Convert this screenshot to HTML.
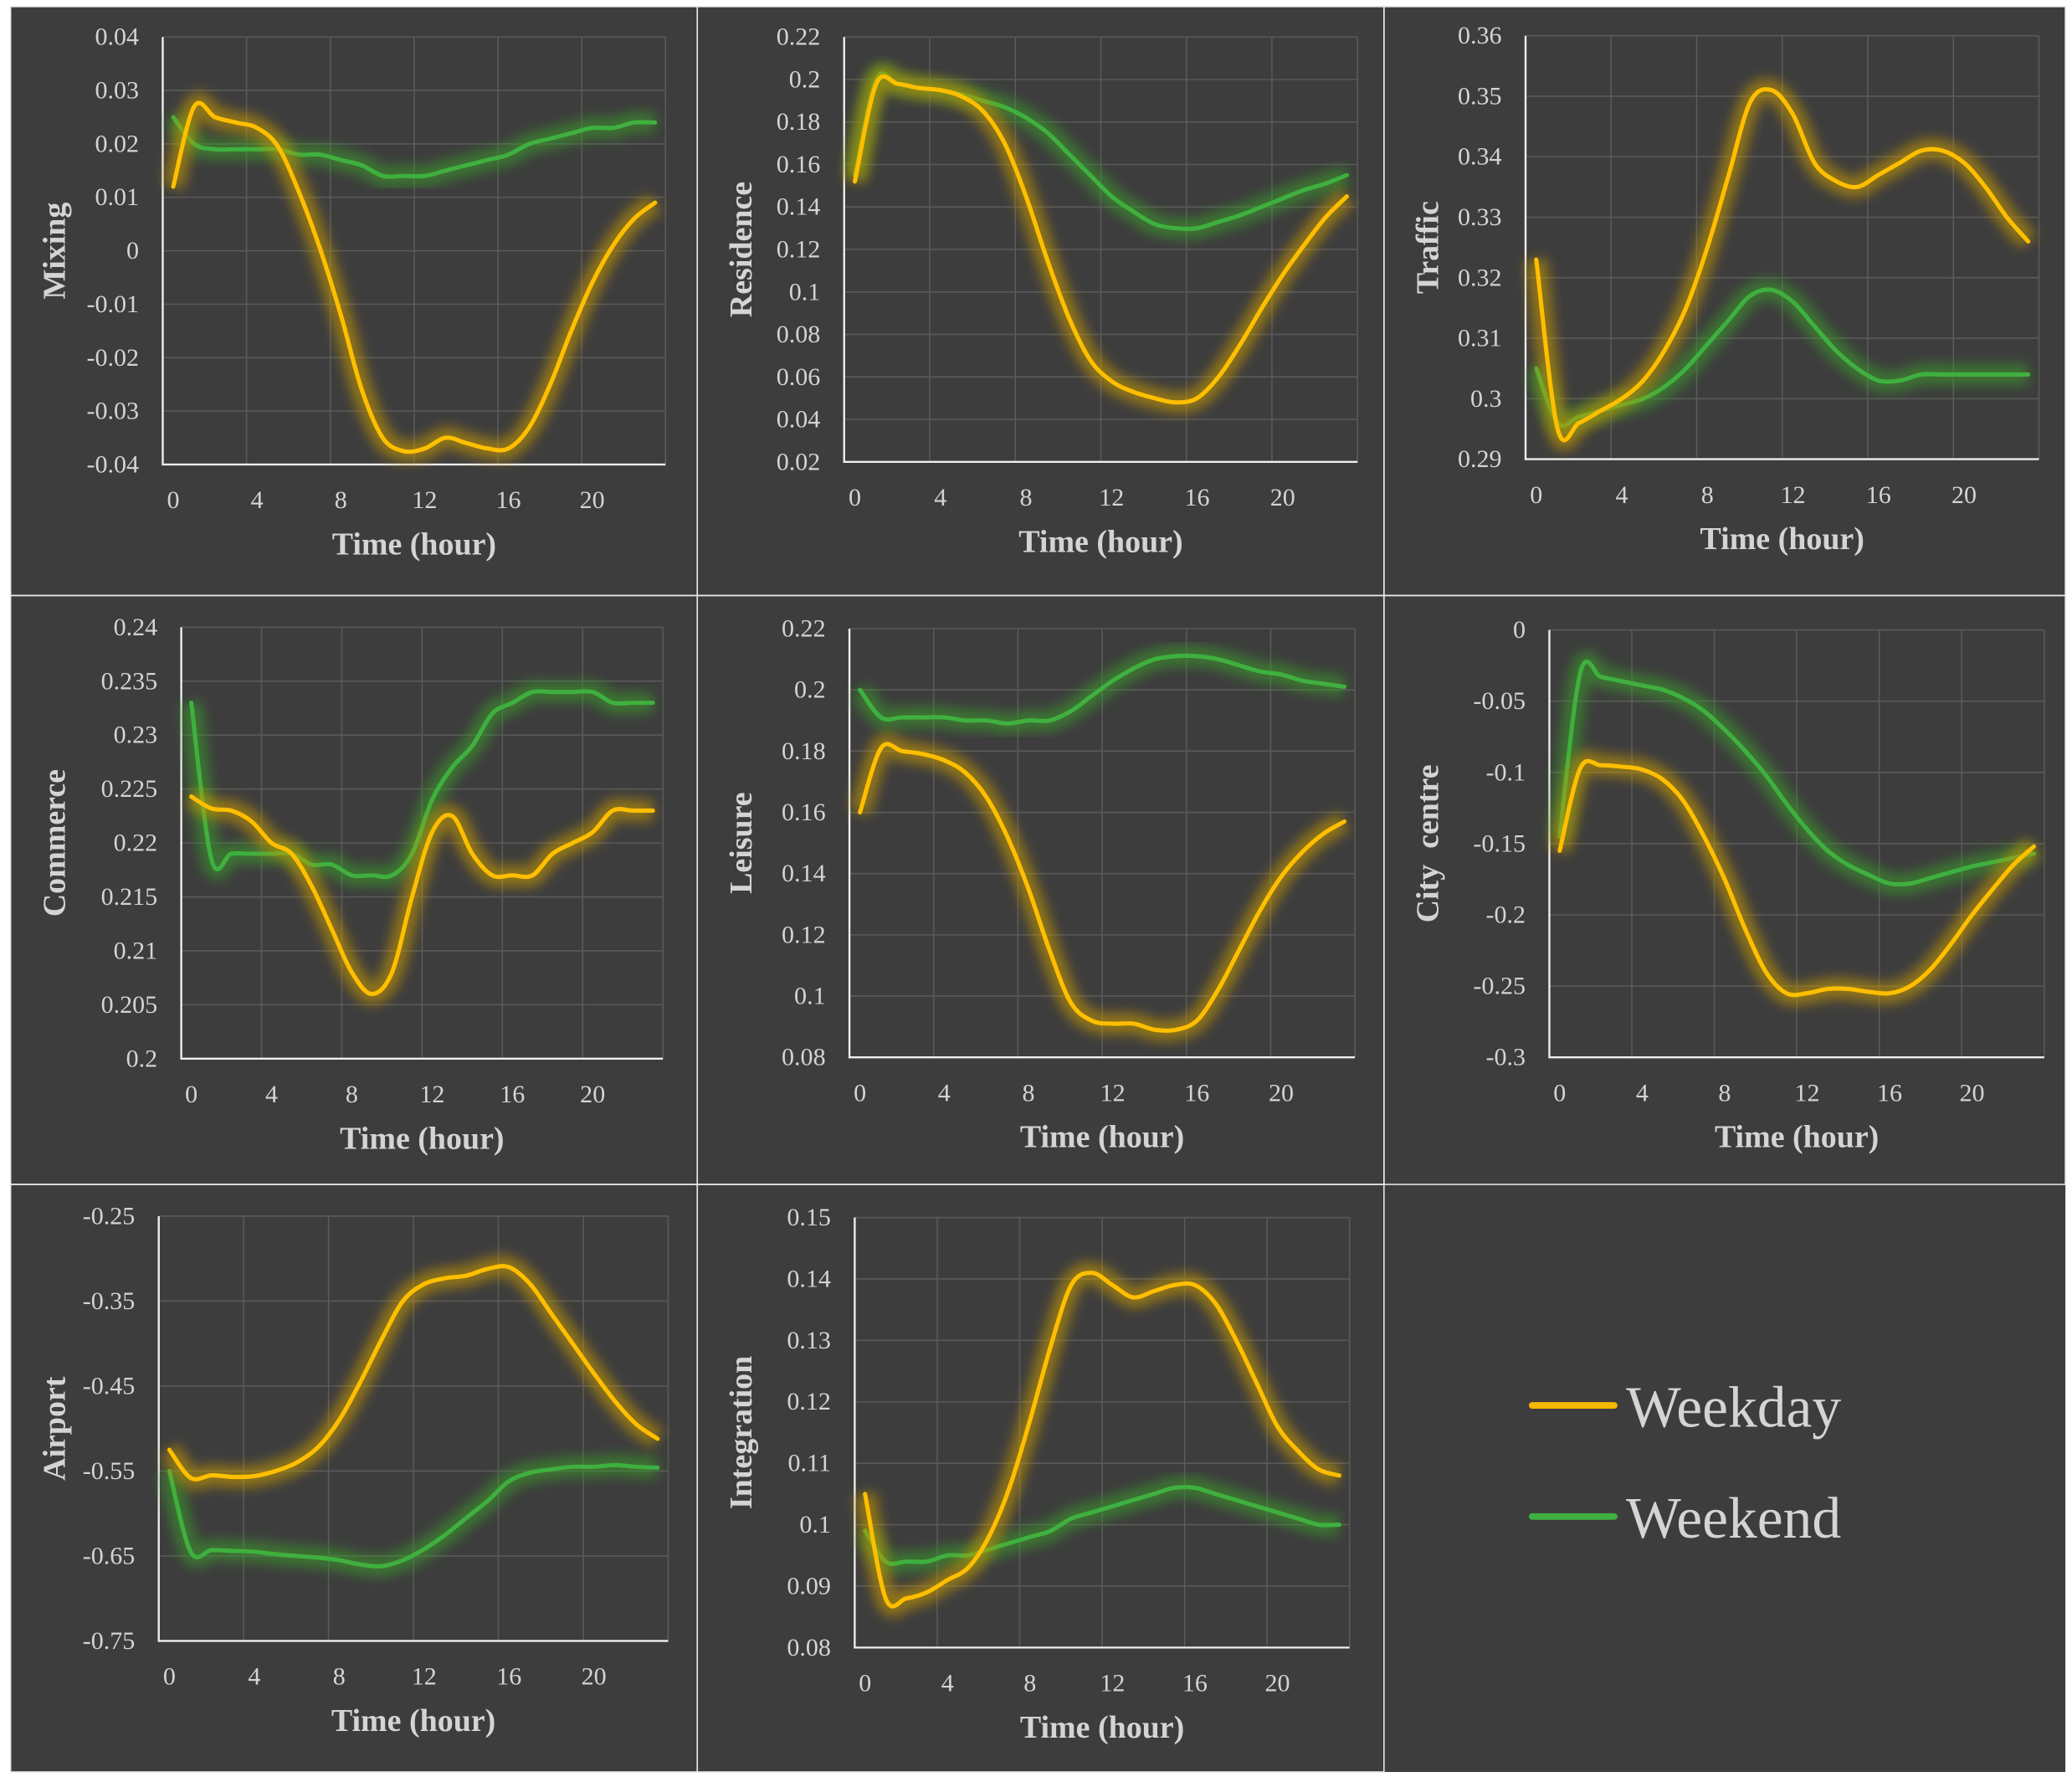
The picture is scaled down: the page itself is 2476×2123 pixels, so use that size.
<!DOCTYPE html>
<html><head><meta charset="utf-8">
<style>
html,body{margin:0;padding:0;background:#fff;}
svg{display:block;}
text{font-family:"Liberation Serif",serif;fill:#d4d4d4;}
</style></head>
<body>
<svg id="fig" width="2476" height="2123" viewBox="0 0 1566 1342.8" preserveAspectRatio="none" xmlns="http://www.w3.org/2000/svg">
<defs>
<filter id="glow" x="-20%" y="-20%" width="140%" height="140%"><feGaussianBlur stdDeviation="4.5"/></filter>
</defs>
<rect x="0" y="0" width="1566" height="1343" fill="#ffffff"/>
<rect x="8" y="5" width="1553" height="1334" fill="#3d3d3d"/>
<g id="panels"></g>
<g>
<line x1="1158" y1="1062" x2="1220" y2="1062" stroke="#f5b800" stroke-width="5" stroke-linecap="round"/>
<text x="1229" y="1078" font-size="44">Weekday</text>
<line x1="1158" y1="1146" x2="1220" y2="1146" stroke="#3fb03f" stroke-width="5" stroke-linecap="round"/>
<text x="1229" y="1162" font-size="44">Weekend</text>
</g>
</svg>
<script>
const hours = [0,1,2,3,4,5,6,7,8,9,10,11,12,13,14,15,16,17,18,19,20,21,22,23];
const xTickLabels = ["0","4","8","12","16","20"];

const mixingWeekday = [0.012,0.027,0.025,0.024,0.023,0.0195,0.011,0.0005,-0.012,-0.026,-0.035,-0.0375,-0.037,-0.035,-0.036,-0.037,-0.037,-0.033,-0.025,-0.015,-0.006,0.001,0.006,0.009];
const mixingWeekend = [0.025,0.020,0.019,0.019,0.019,0.019,0.018,0.018,0.017,0.016,0.014,0.014,0.014,0.015,0.016,0.017,0.018,0.020,0.021,0.022,0.023,0.023,0.024,0.024];
const residenceWeekday = [0.152,0.198,0.198,0.196,0.195,0.192,0.185,0.170,0.145,0.115,0.088,0.068,0.058,0.053,0.050,0.048,0.050,0.060,0.075,0.092,0.108,0.122,0.135,0.145];
const residenceWeekend = [0.155,0.200,0.198,0.196,0.195,0.193,0.190,0.187,0.182,0.175,0.165,0.155,0.145,0.138,0.132,0.130,0.130,0.133,0.136,0.140,0.144,0.148,0.151,0.155];
const trafficWeekday = [0.323,0.295,0.296,0.298,0.300,0.303,0.308,0.315,0.325,0.337,0.349,0.351,0.347,0.339,0.336,0.335,0.337,0.339,0.341,0.341,0.339,0.335,0.330,0.326];
const trafficWeekend = [0.305,0.296,0.297,0.298,0.299,0.300,0.302,0.305,0.309,0.313,0.317,0.318,0.316,0.312,0.308,0.305,0.303,0.303,0.304,0.304,0.304,0.304,0.304,0.304];
const commerceWeekday = [0.2243,0.2232,0.223,0.222,0.220,0.219,0.216,0.212,0.208,0.206,0.208,0.215,0.221,0.2225,0.219,0.217,0.217,0.217,0.219,0.220,0.221,0.223,0.223,0.223];
const commerceWeekend = [0.233,0.2185,0.219,0.219,0.219,0.219,0.218,0.218,0.217,0.217,0.217,0.219,0.224,0.227,0.229,0.232,0.233,0.234,0.234,0.234,0.234,0.233,0.233,0.233];
const leisureWeekday = [0.160,0.181,0.180,0.179,0.177,0.173,0.165,0.152,0.135,0.115,0.098,0.092,0.091,0.091,0.089,0.089,0.092,0.102,0.115,0.128,0.139,0.147,0.153,0.157];
const leisureWeekend = [0.200,0.191,0.191,0.191,0.191,0.190,0.190,0.189,0.190,0.190,0.193,0.198,0.203,0.207,0.210,0.211,0.211,0.210,0.208,0.206,0.205,0.203,0.202,0.201];
const cityWeekday = [-0.155,-0.097,-0.095,-0.096,-0.098,-0.105,-0.120,-0.145,-0.175,-0.210,-0.240,-0.255,-0.255,-0.252,-0.252,-0.254,-0.255,-0.250,-0.238,-0.220,-0.200,-0.182,-0.165,-0.152];
const cityWeekend = [-0.145,-0.030,-0.033,-0.036,-0.039,-0.042,-0.048,-0.057,-0.070,-0.085,-0.102,-0.122,-0.140,-0.155,-0.165,-0.172,-0.178,-0.178,-0.174,-0.170,-0.166,-0.163,-0.160,-0.157];
const airportWeekday = [-0.525,-0.558,-0.555,-0.557,-0.556,-0.550,-0.540,-0.522,-0.490,-0.445,-0.395,-0.350,-0.330,-0.323,-0.320,-0.312,-0.310,-0.330,-0.365,-0.400,-0.435,-0.468,-0.495,-0.512];
const airportWeekend = [-0.550,-0.645,-0.643,-0.644,-0.645,-0.648,-0.650,-0.652,-0.655,-0.660,-0.662,-0.655,-0.642,-0.625,-0.605,-0.585,-0.562,-0.552,-0.548,-0.545,-0.545,-0.543,-0.545,-0.546];
const integrationWeekday = [0.105,0.088,0.088,0.089,0.091,0.093,0.098,0.106,0.117,0.129,0.139,0.141,0.139,0.137,0.138,0.139,0.139,0.136,0.130,0.123,0.116,0.112,0.109,0.108];
const integrationWeekend = [0.099,0.094,0.094,0.094,0.095,0.095,0.096,0.097,0.098,0.099,0.101,0.102,0.103,0.104,0.105,0.106,0.106,0.105,0.104,0.103,0.102,0.101,0.100,0.100];

const mixingTicks = ["-0.04","-0.03","-0.02","-0.01","0","0.01","0.02","0.03","0.04"];
const residenceTicks = ["0.02","0.04","0.06","0.08","0.1","0.12","0.14","0.16","0.18","0.2","0.22"];
const trafficTicks = ["0.29","0.3","0.31","0.32","0.33","0.34","0.35","0.36"];
const commerceTicks = ["0.2","0.205","0.21","0.215","0.22","0.225","0.23","0.235","0.24"];
const leisureTicks = ["0.08","0.1","0.12","0.14","0.16","0.18","0.2","0.22"];
const cityTicks = ["-0.3","-0.25","-0.2","-0.15","-0.1","-0.05","0"];
const airportTicks = ["-0.75","-0.65","-0.55","-0.45","-0.35","-0.25"];
const integrationTicks = ["0.08","0.09","0.1","0.11","0.12","0.13","0.14","0.15"];

const panels = [
 {name:"mixing",label:"Mixing",px:[8,5,519,445],plot:[123,28,503,351],ticks:mixingTicks,wd:mixingWeekday,we:mixingWeekend},
 {name:"residence",label:"Residence",px:[527,5,519,445],plot:[638,28,1026,349],ticks:residenceTicks,wd:residenceWeekday,we:residenceWeekend},
 {name:"traffic",label:"Traffic",px:[1046,5,515,445],plot:[1153,27,1541,347],ticks:trafficTicks,wd:trafficWeekday,we:trafficWeekend},
 {name:"commerce",label:"Commerce",px:[8,450,519,445],plot:[137,474,501,800],ticks:commerceTicks,wd:commerceWeekday,we:commerceWeekend},
 {name:"leisure",label:"Leisure",px:[527,450,519,445],plot:[642,475,1024,799],ticks:leisureTicks,wd:leisureWeekday,we:leisureWeekend},
 {name:"city-centre",label:"City  centre",px:[1046,450,515,445],plot:[1171,476,1545,799],ticks:cityTicks,wd:cityWeekday,we:cityWeekend},
 {name:"airport",label:"Airport",px:[8,895,519,444],plot:[120,919,505,1240],ticks:airportTicks,wd:airportWeekday,we:airportWeekend},
 {name:"integration",label:"Integration",px:[527,895,519,444],plot:[646,920,1020,1245],ticks:integrationTicks,wd:integrationWeekday,we:integrationWeekend}
];
const NS="http://www.w3.org/2000/svg";
const root=document.getElementById('panels');
function mk(tag,attrs,parent){const e=document.createElementNS(NS,tag);for(const k in attrs)e.setAttribute(k,attrs[k]);parent.appendChild(e);return e;}
function smooth(pts){
  let d="M"+pts[0][0].toFixed(2)+","+pts[0][1].toFixed(2);
  for(let i=0;i<pts.length-1;i++){
    const p0=pts[i-1]||pts[i],p1=pts[i],p2=pts[i+1],p3=pts[i+2]||p2;
    const c1=[p1[0]+(p2[0]-p0[0])/6,p1[1]+(p2[1]-p0[1])/6];
    const c2=[p2[0]-(p3[0]-p1[0])/6,p2[1]-(p3[1]-p1[1])/6];
    d+=" C"+c1[0].toFixed(2)+","+c1[1].toFixed(2)+" "+c2[0].toFixed(2)+","+c2[1].toFixed(2)+" "+p2[0].toFixed(2)+","+p2[1].toFixed(2);
  }
  return d;
}
panels.forEach(p=>{
  const g=mk('g',{},root);
  
  
  const [bx,by,bw,bh]=p.px;
  const border=mk('rect',{x:bx,y:by,width:bw,height:bh,fill:'none',stroke:'#e8e8e8','stroke-width':1},g);
  
  
  const [x0,y0,x1,y1]=p.plot;
  const n=hours.length, cw=(x1-x0)/n;
  const ymin=parseFloat(p.ticks[0]), ymax=parseFloat(p.ticks[p.ticks.length-1]);
  const xs=i=>x0+cw*(i+0.5);
  const ys=v=>y1-(v-ymin)/(ymax-ymin)*(y1-y0);
  p.ticks.forEach((t,i)=>{
    const v=parseFloat(t), y=ys(v);
    if(i>0){const gl=mk('line',{x1:x0,y1:y,x2:x1,y2:y,stroke:'#5a5a5a','stroke-width':1},g);
      
      }
    const tl=mk('text',{x:x0-18,y:y+6,'font-size':19,'text-anchor':'end'},g);
    tl.textContent=t;
    
    
  });
  for(let k=4;k<=n;k+=4){
    const x=x0+cw*k;
    const gl=mk('line',{x1:x,y1:y0,x2:x,y2:y1,stroke:'#5a5a5a','stroke-width':1},g);
    
    
  }
  xTickLabels.forEach(t=>{
    const tl=mk('text',{x:xs(parseInt(t)),y:y1+33,'font-size':19,'text-anchor':'middle'},g);
    tl.textContent=t;
    
    
  });
  const ax=mk('path',{d:`M${x0},${y0} L${x0},${y1} L${x1},${y1}`,fill:'none',stroke:'#eeeeee','stroke-width':1.5},g);
  
  
  const xt=mk('text',{x:(x0+x1)/2,y:y1+68,'font-size':24,'font-weight':'bold','text-anchor':'middle'},g);
  xt.textContent="Time (hour)";
  
  
  const lx=bx+41, ly=(y0+y1)/2;
  const yt=mk('text',{x:lx,y:ly,'font-size':24,'font-weight':'bold','text-anchor':'middle',transform:`rotate(-90 ${lx} ${ly})`},g);
  yt.setAttribute('xml:space','preserve');
  yt.style.whiteSpace='pre';
  yt.textContent=p.label;
  
  
  [[p.we,'#3fb03f','#3a9a2a','weekend'],[p.wd,'#ffbf00','#c89a00','weekday']].forEach(([vals,col,glow,nm])=>{
    const d=smooth(vals.map((v,i)=>[xs(i),ys(v)]));
    const gp=mk('path',{d:d,fill:'none',stroke:glow,'stroke-width':16,opacity:0.6,filter:'url(#glow)','stroke-linejoin':'round'},g);
    
    
    const lp=mk('path',{d:d,fill:'none',stroke:col,'stroke-width':3.2,'stroke-linejoin':'round','stroke-linecap':'round'},g);
    
    
  });
});
</script>
</body></html>
